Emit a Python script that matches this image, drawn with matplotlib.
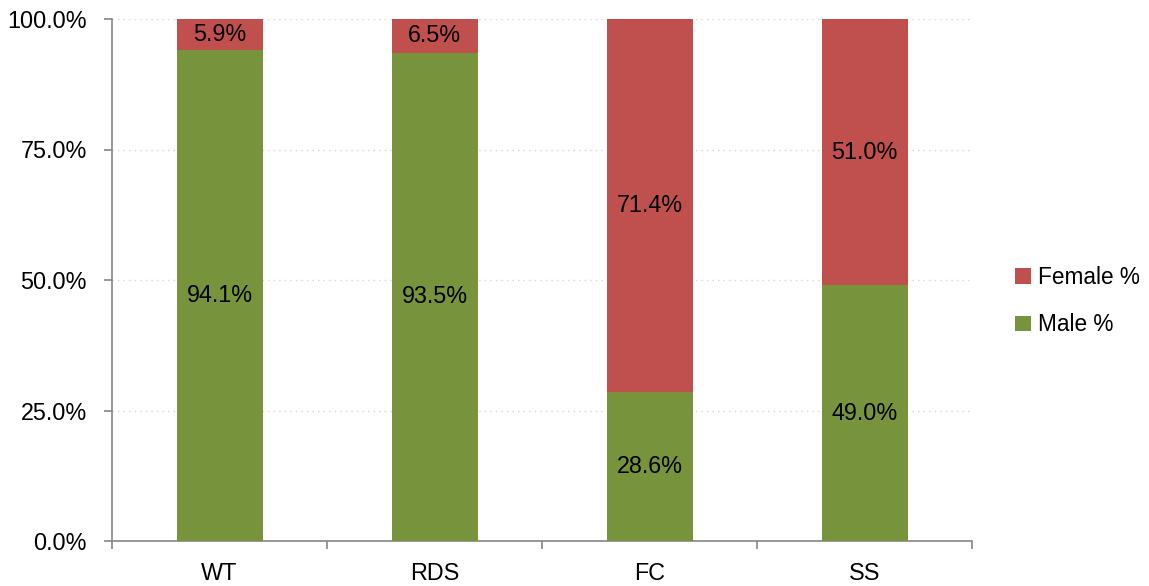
import matplotlib
matplotlib.use('Agg')
import matplotlib.pyplot as plt
import numpy as np
from matplotlib.ticker import FuncFormatter, FixedLocator

plt.rcParams['font.family'] = ['Liberation Sans', 'DejaVu Sans']

# data
groups = ['WT', 'RDS', 'FC', 'SS']
male = [94.1, 93.5, 28.6, 49.0]
female = [5.9, 6.5, 71.4, 51.0]

red = '#C0504D'
green = '#77933C'

fig = plt.figure(figsize=(11.49, 5.86), dpi=100)
ax = fig.add_axes([112/1149, 1-541/586, 860/1149, 522/586])

x = np.arange(len(groups))
b1 = ax.bar(x, male, width=0.4, color=green, label='Male %', zorder=3)
b2 = ax.bar(x, female, width=0.4, bottom=male, color=red, label='Female %', zorder=3)

ax.bar_label(b1, labels=['%.1f%%' % v for v in male], label_type='center', fontsize=16.8)
ax.bar_label(b2, labels=['%.1f%%' % v for v in female], label_type='center', fontsize=16.8)

ax.set_xlim(-0.5, len(groups) - 0.5)
ax.set_ylim(0, 100)
ax.set_yticks([0, 25, 50, 75, 100])
ax.yaxis.set_major_formatter(FuncFormatter(lambda v, p: '%.1f%%' % v))
ax.set_xticks(x)
ax.set_xticklabels(groups)
ax.xaxis.set_minor_locator(FixedLocator(np.arange(len(groups) + 1) - 0.5))
ax.tick_params(axis='x', which='major', length=0, pad=15, labelsize=16.8)
ax.tick_params(axis='x', which='minor', length=6, color='#868686', width=1.2)
ax.tick_params(axis='y', length=6, color='#868686', width=1.2, labelsize=16.8, pad=12)

ax.grid(axis='y', linestyle=(0, (1, 3)), color='#D9D9C0', linewidth=1, zorder=0)
for s in ['top', 'right']:
    ax.spines[s].set_visible(False)
for s in ['left', 'bottom']:
    ax.spines[s].set_color('#868686')
    ax.spines[s].set_linewidth(1.2)

handles, labels = ax.get_legend_handles_labels()
fig.legend(handles[::-1], labels[::-1], loc='center left', bbox_to_anchor=(995/1149, 1-301/586),
           frameon=False, fontsize=16.3, handlelength=0.7, handleheight=0.7, handletextpad=0.3,
           labelspacing=1.1)

fig.savefig('out.png', dpi=100)
